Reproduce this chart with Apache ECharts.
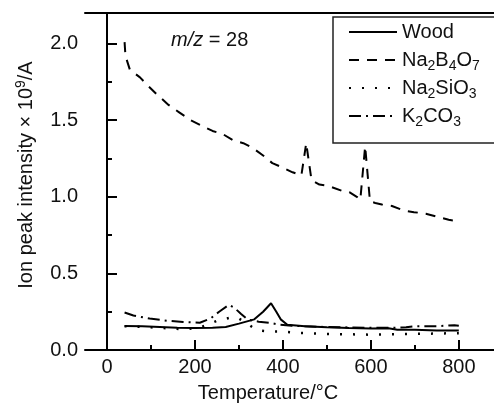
<!DOCTYPE html>
<html>
<head>
<meta charset="utf-8">
<script src="https://cdn.jsdelivr.net/npm/echarts@6/dist/echarts.min.js"></script>
<style>html,body{margin:0;padding:0;background:#fff;}#c{width:494px;height:404px;}</style>
</head>
<body>
<div id="c"></div>
<script>
const seriesNames = ['Wood', 'Na2B4O7', 'Na2SiO3', 'K2CO3'];
const xTickValues = [0, 200, 400, 600, 800];
const xMinorTickValues = [100, 300, 500, 700];
const woodData = [[40,0.157],[80,0.155],[120,0.150],[160,0.145],[200,0.143],[240,0.145],[270,0.150],[300,0.172],[335,0.200],[355,0.250],[373,0.305],[385,0.250],[395,0.200],[410,0.165],[450,0.155],[500,0.148],[550,0.143],[600,0.140],[640,0.142],[660,0.132],[700,0.132],[750,0.128],[800,0.127]];
const boraxData = [[40,2.01],[42,1.92],[52,1.83],[75,1.78],[95,1.72],[113,1.67],[140,1.60],[165,1.55],[190,1.50],[218,1.46],[240,1.43],[263,1.41],[286,1.37],[310,1.35],[331,1.32],[355,1.27],[376,1.22],[400,1.19],[422,1.16],[442,1.14],[453,1.35],[465,1.11],[483,1.08],[505,1.07],[533,1.04],[551,1.03],[568,1.00],[576,0.98],[587,1.33],[598,0.97],[610,0.96],[625,0.95],[648,0.94],[675,0.91],[698,0.90],[725,0.89],[750,0.87],[777,0.85],[800,0.84]];
const silicateData = [[40,0.155],[100,0.148],[150,0.140],[180,0.135],[215,0.150],[250,0.190],[285,0.215],[300,0.205],[315,0.180],[330,0.150],[343,0.128],[373,0.120],[400,0.120],[435,0.112],[500,0.105],[600,0.100],[700,0.105],[800,0.110]];
const carbonateData = [[40,0.245],[60,0.225],[97,0.205],[140,0.190],[173,0.183],[211,0.178],[235,0.205],[255,0.250],[277,0.295],[290,0.275],[305,0.235],[320,0.198],[345,0.185],[370,0.178],[392,0.165],[420,0.158],[500,0.150],[600,0.145],[650,0.145],[680,0.148],[700,0.155],[750,0.155],[790,0.162],[800,0.158]];

const FONT = 'Liberation Sans';
const INK = '#111';
function legendLabel(name) {
  if (name === 'Na2B4O7') return 'Na{s|2}B{s|4}O{s|7}';
  if (name === 'Na2SiO3') return 'Na{s|2}SiO{s|3}';
  if (name === 'K2CO3') return 'K{s|2}CO{s|3}';
  return name;
}

const chart = echarts.init(document.getElementById('c'), null, {renderer: 'canvas'});
const axisLineStyle = {color: '#000', width: 2};
chart.setOption({
  animation: false,
  backgroundColor: '#fff',
  grid: {left: 85, right: -1, top: 13, bottom: 54},
  legend: {
    orient: 'vertical',
    left: 333,
    top: 17,
    padding: [2, 40, 14, 15],
    itemGap: 2,
    itemWidth: 48,
    itemHeight: 14,
    selectedMode: false,
    borderColor: '#222',
    borderWidth: 1.5,
    data: seriesNames,
    formatter: legendLabel,
    itemStyle: {opacity: 0},
    textStyle: {
      fontFamily: FONT, fontSize: 20, color: INK, lineHeight: 26,
      rich: {s: {fontFamily: FONT, fontSize: 14, color: INK, lineHeight: 14, verticalAlign: 'bottom'}}
    }
  },
  xAxis: [
    {
      type: 'value', min: -50, max: 880, position: 'bottom',
      axisLine: {lineStyle: axisLineStyle},
      axisTick: {show: true, inside: true, length: 10, lineStyle: {color: '#000', width: 2}, customValues: xTickValues},
      axisLabel: {fontFamily: FONT, fontSize: 20, color: INK, margin: 7, customValues: xTickValues},
      splitLine: {show: false}
    },
    {
      type: 'value', min: -50, max: 880, position: 'bottom',
      axisLine: {show: false},
      axisTick: {show: true, inside: true, length: 5, lineStyle: {color: '#000', width: 2}, customValues: xMinorTickValues},
      axisLabel: {show: false},
      splitLine: {show: false}
    },
    {
      type: 'value', min: -50, max: 880, position: 'top',
      axisLine: {lineStyle: axisLineStyle},
      axisTick: {show: false}, axisLabel: {show: false}, splitLine: {show: false}
    }
  ],
  yAxis: [
    {
      type: 'value', min: 0, max: 2.2, interval: 0.5, position: 'left',
      axisLine: {show: true, lineStyle: axisLineStyle},
      axisTick: {show: true, inside: true, length: 10, lineStyle: {color: '#000', width: 2}},
      minorTick: {show: true, splitNumber: 2, length: 5, lineStyle: {color: '#000', width: 2}},
      axisLabel: {fontFamily: FONT, fontSize: 20, color: INK, margin: 7, showMaxLabel: false, formatter: v => v.toFixed(1)},
      splitLine: {show: false}
    },
    {
      type: 'value', min: 0, max: 2.2, position: 'right',
      axisLine: {show: true, lineStyle: axisLineStyle},
      axisTick: {show: false}, axisLabel: {show: false}, splitLine: {show: false}
    }
  ],
  graphic: [
    {
      type: 'text', x: 268, y: 393,
      style: {text: 'Temperature/°C', fontFamily: FONT, fontSize: 20, fill: INK, align: 'center', verticalAlign: 'middle'}
    },
    {
      type: 'text', x: 26, y: 175, rotation: Math.PI / 2,
      style: {
        text: 'Ion peak intensity × 10{sup|9}/A', fontFamily: FONT, fontSize: 20, fill: INK,
        align: 'center', verticalAlign: 'middle', lineHeight: 24,
        rich: {sup: {fontFamily: FONT, fontSize: 14, fill: INK, lineHeight: 14, verticalAlign: 'top'}}
      }
    },
    {
      type: 'text', x: 171, y: 40,
      style: {
        text: '{i|m/z} = 28', fontFamily: FONT, fontSize: 20, fill: INK, align: 'left', verticalAlign: 'middle',
        rich: {i: {fontFamily: FONT, fontSize: 20, fontStyle: 'italic', fill: INK}}
      }
    }
  ],
  series: [
    {name: 'Wood', type: 'line', data: woodData, symbol: 'none', lineStyle: {color: '#000', width: 2, type: 'solid'}, itemStyle: {color: '#000'}},
    {name: 'Na2B4O7', type: 'line', data: boraxData, symbol: 'none', lineStyle: {color: '#000', width: 2, type: [10, 8]}, itemStyle: {color: '#000'}},
    {name: 'Na2SiO3', type: 'line', data: silicateData, symbol: 'none', lineStyle: {color: '#000', width: 2.5, type: [2, 11]}, itemStyle: {color: '#000'}},
    {name: 'K2CO3', type: 'line', data: carbonateData, symbol: 'none', lineStyle: {color: '#000', width: 2, type: [12, 5, 2, 5]}, itemStyle: {color: '#000'}}
  ]
});
</script>
</body>
</html>
